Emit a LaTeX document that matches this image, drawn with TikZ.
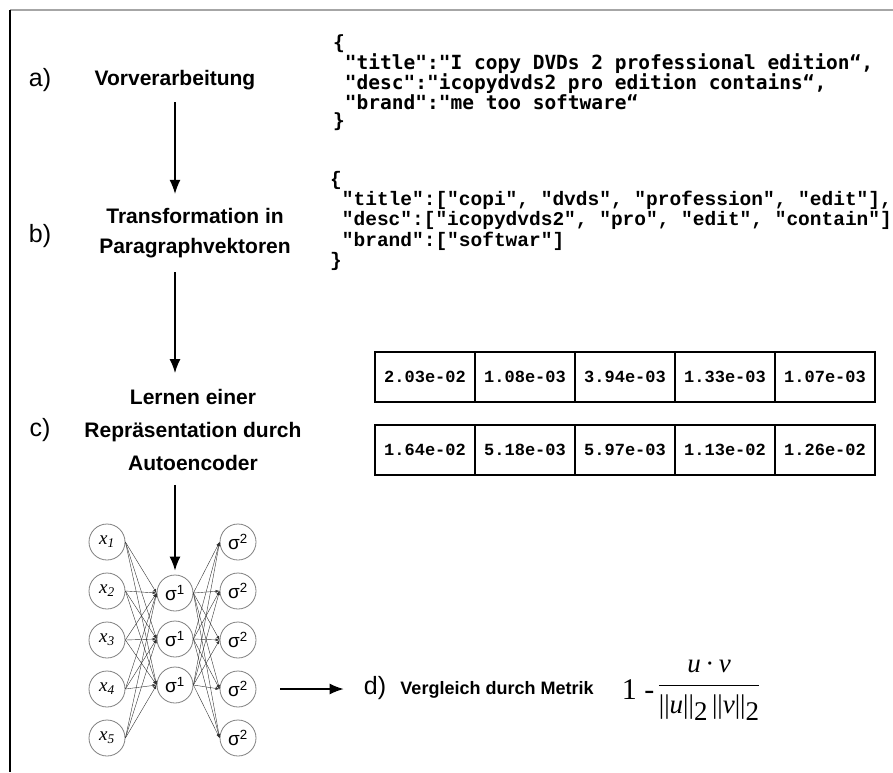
\documentclass[tikz,border=0pt]{standalone}
\usepackage{fontspec}
\setmainfont{Liberation Sans}
\newfontfamily\jsonfont{DejaVu Sans Mono}
\newfontfamily\courfont{Liberation Mono}
\newfontfamily\timesfont{Liberation Serif}
\usetikzlibrary{arrows.meta,positioning}

\begin{document}
\begin{tikzpicture}[x=1pt,y=-1pt]
    \tikzstyle{letter} = [font=\fontsize{25}{25}\selectfont, inner sep=0pt]
    \tikzstyle{task} = [font=\fontsize{21}{30}\selectfont\bfseries, align=center, inner sep=0pt]
    \tikzstyle{flow} = [line width=1.5pt, -{Latex[length=14pt,width=11pt]}]
    \tikzstyle{json} = [align=left, anchor=north west, inner sep=0pt]
    \tikzstyle{cell} = [draw, line width=1.8pt, minimum width=100pt, minimum height=50pt,
                        inner sep=0pt, outer sep=0pt, font=\courfont\bfseries\fontsize{17}{17}\selectfont]
    \tikzstyle{neuron} = [circle, draw=gray, line width=0.8pt, minimum size=36pt, inner sep=0pt, fill=white]
    \tikzstyle{syn} = [line width=0.4pt, draw=black!80, -{Latex[length=4pt,width=3pt]}]
    \useasboundingbox (0,0) rectangle (893,772);
    \draw[gray!70, line width=2pt] (893,10) -- (10,10);
    \draw[line width=1.2pt] (10,10) -- (10,772);

    % a) Vorverarbeitung
    \node[letter] (a) at (40,80) {a)};
    \node[task] (vorv) at (175,80) {Vorverarbeitung};
    \node[json, font=\jsonfont\bfseries\fontsize{19.5}{18}\selectfont] (raw) at (333,34)
      {\{\\
       \ "title":"I copy DVDs 2 professional edition“,\\
       \ "desc":"icopydvds2 pro edition contains“,\\
       \ "brand":"me too software“\\
       \}};

    % b) Paragraphvektoren
    \node[letter] (b) at (40,236) {b)};
    \node[task] (transf) at (195,233) {Transformation in\\Paragraphvektoren};
    \node[json, font=\courfont\bfseries\fontsize{19.5}{20.3}\selectfont] (tokens) at (330,171)
      {\{\\
       \ "title":["copi", "dvds", "profession", "edit"],\\
       \ "desc":["icopydvds2", "pro", "edit", "contain"]\\
       \ "brand":["softwar"]\\
       \}};

    % c) Autoencoder
    \node[letter] (c) at (40,430) {c)};
    \node[task, font=\fontsize{21}{33}\selectfont\bfseries] (learn) at (193,430)
      {Lernen einer\\Repräsentation durch\\Autoencoder};
    \foreach \v [count=\i] in {2.03e-02,1.08e-03,3.94e-03,1.33e-03,1.07e-03}
      \node[cell] (r1c\i) at (325+100*\i,377) {\v};
    \foreach \v [count=\i] in {1.64e-02,5.18e-03,5.97e-03,1.13e-02,1.26e-02}
      \node[cell] (r2c\i) at (325+100*\i,450) {\v};

    % Netz
    \foreach \i in {1,...,5} {
      \node[neuron, font=\timesfont\itshape\fontsize{19}{19}\selectfont] (x\i) at (107,493+49*\i) {x\textsubscript{\i}};
      \node[neuron, font=\fontsize{19}{19}\selectfont] (o\i) at (238,493+49*\i) {σ\textsuperscript{2}};
    }
    \foreach \j in {1,2,3}
      \node[neuron, font=\fontsize{19}{19}\selectfont] (h\j) at (175,547+46*\j) {σ\textsuperscript{1}};
    \foreach \i in {1,...,5}
      \foreach \j in {1,2,3} {
        \draw[syn] (x\i.east) -- (h\j.west);
        \draw[syn] (h\j.east) -- (o\i.west);
      }

    % d) Metrik
    \node[letter] (d) at (375,688) {d)};
    \node[task, font=\fontsize{18}{18}\selectfont\bfseries] (vgl) at (497,690) {Vergleich durch Metrik};
    \node[font=\timesfont\fontsize{30}{30}\selectfont, inner sep=0pt] (one) at (638,690) {1 -};
    \node[font=\timesfont\fontsize{27}{30}\selectfont, inner sep=0pt] (frac) at (709,687)
      {\setlength{\arrayrulewidth}{1.5pt}%
       \begin{tabular}{@{}c@{}}\textit{u}\,·\,\textit{v}\\[3pt]\hline
       \rule{0pt}{27pt}||\textit{u}||\lower7pt\hbox{2}\,||\textit{v}||\lower7pt\hbox{2}\end{tabular}};

    % Pfeile
    \draw[flow, shorten <=12pt, shorten >=14pt] (vorv.south) -- (vorv.south |- transf.north);
    \draw[flow, shorten <=14pt, shorten >=16pt] (vorv.south |- transf.south) -- (vorv.south |- learn.north);
    \draw[flow, shorten <=14pt, shorten >=4pt] (vorv.south |- learn.south) -- (h1.north);
    \draw[flow, shorten <=24pt, shorten >=20pt] (o4.east) -- (o4.east -| d.west);
\end{tikzpicture}
\end{document}
